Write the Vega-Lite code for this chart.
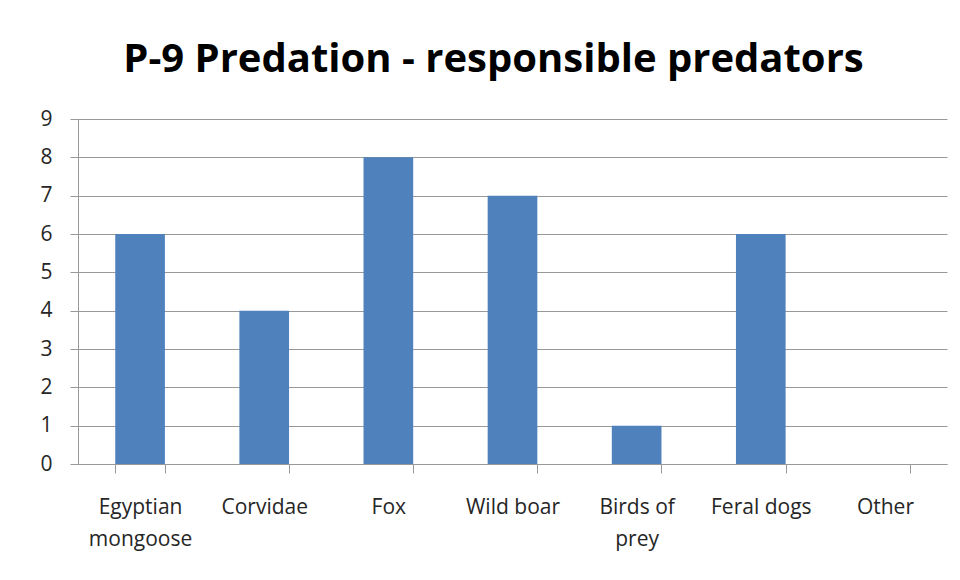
{
  "$schema": "https://vega.github.io/schema/vega-lite/v6.json",
  "width": 869,
  "height": 345,
  "autosize": {"type": "none"},
  "padding": {"left": 78, "top": 119, "right": 13, "bottom": 116},
  "background": "white",
  "title": {
    "text": "P-9 Predation - responsible predators",
    "font": "Open Sans",
    "fontSize": 40,
    "fontWeight": "bold",
    "color": "#000000",
    "anchor": "middle",
    "dx": -19,
    "offset": 28
  },
  "data": {
    "values": [
      {"predator": "Egyptian mongoose", "count": 6},
      {"predator": "Corvidae", "count": 4},
      {"predator": "Fox", "count": 8},
      {"predator": "Wild boar", "count": 7},
      {"predator": "Birds of prey", "count": 1},
      {"predator": "Feral dogs", "count": 6},
      {"predator": "Other", "count": 0}
    ]
  },
  "mark": {"type": "bar", "color": "#4f81bd"},
  "encoding": {
    "x": {
      "field": "predator",
      "type": "nominal",
      "sort": null,
      "scale": {"paddingInner": 0.6, "paddingOuter": 0.3},
      "axis": {
        "title": null,
        "labelAngle": 0,
        "labelFont": "Open Sans",
        "labelFontSize": 21,
        "labelColor": "#262626",
        "labelPadding": 23,
        "labelLineHeight": 32,
        "labelExpr": "datum.label == 'Egyptian mongoose' ? ['Egyptian', 'mongoose'] : datum.label == 'Birds of prey' ? ['Birds of', 'prey'] : datum.label",
        "tickBand": "extent",
        "tickSize": 9,
        "tickColor": "#999999",
        "domainColor": "#999999",
        "grid": false,
        "labelLimit": 0
      }
    },
    "y": {
      "field": "count",
      "type": "quantitative",
      "scale": {"domain": [0, 9], "nice": false},
      "axis": {
        "title": null,
        "values": [0, 1, 2, 3, 4, 5, 6, 7, 8, 9],
        "labelFont": "Open Sans",
        "labelFontSize": 21,
        "labelColor": "#262626",
        "labelPadding": 18,
        "tickSize": 8,
        "tickColor": "#999999",
        "domainColor": "#999999",
        "gridColor": "#999999",
        "gridOpacity": 1
      }
    }
  },
  "config": {
    "view": {"stroke": null}
  }
}
